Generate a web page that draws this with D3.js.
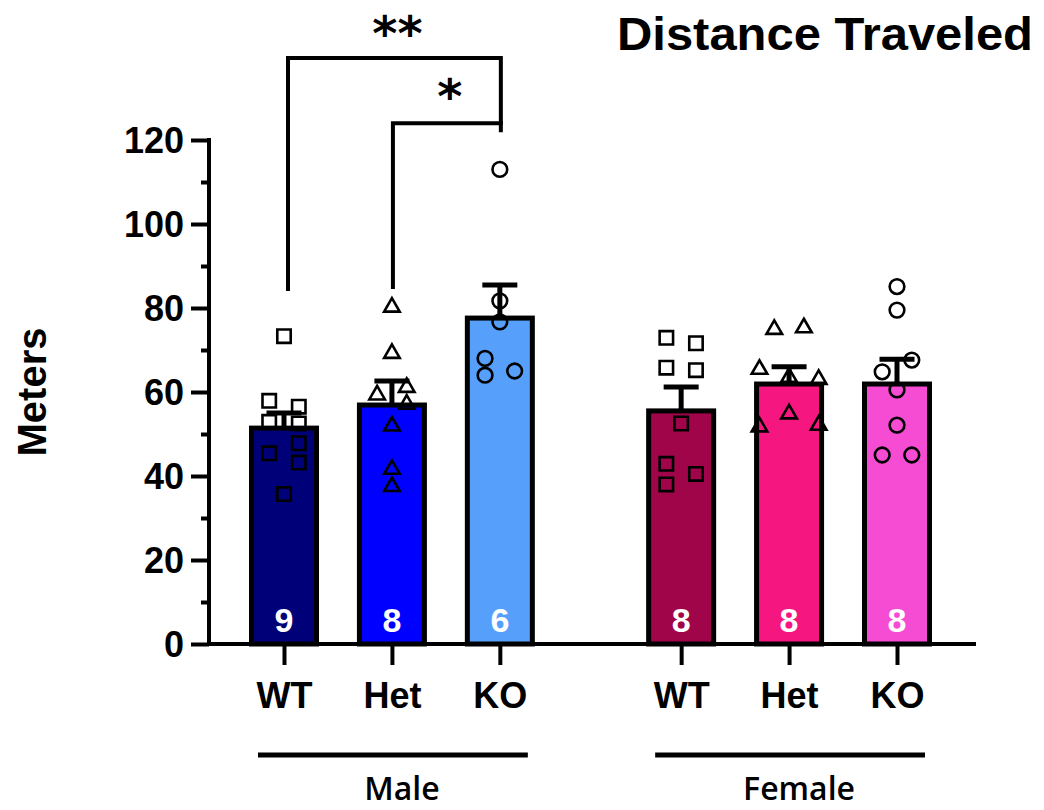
<!DOCTYPE html>
<html><head><meta charset="utf-8">
<script src="https://cdn.jsdelivr.net/npm/d3@7"></script>
<style>body{margin:0;background:#fff} svg{display:block;background:#fff}</style>
</head><body><svg id="c" width="1044" height="810"></svg>
<script>
// ---- data ----
const genotypes = ["WT", "Het", "KO", "WT", "Het", "KO"];
const sexLabels = ["Male", "Female"];
const barColors = ["#000078", "#0000FF", "#56A0FC", "#A0054A", "#F5177F", "#F54CD3"];
const means = [51.4, 56.9, 77.6, 55.5, 61.9, 61.9];
const sems = [3.6, 5.7, 7.9, 5.7, 4.1, 5.9];

const maleWT = [73.3, 57.9, 56.5, 52.9, 52.5, 47.8, 45.4, 43.2, 35.7];
const maleHet = [80.2, 69.2, 59.3, 61.1, 57.1, 51.9, 41.6, 37.5];
const maleKO = [113.0, 81.7, 76.7, 68.0, 64.0, 65.0];
const femaleWT = [72.9, 71.6, 65.8, 65.2, 52.5, 42.9, 40.5, 38.0];
const femaleHet = [74.9, 75.3, 65.4, 63.5, 63.0, 54.8, 51.7, 52.1];
const femaleKO = [85.1, 79.5, 67.6, 64.8, 60.5, 52.1, 45.0, 45.0];

// scatter column of each point (left / centre / right)
const maleWTcol = [0, -1, 1, -1, 1, 1, -1, 1, 0];
const maleHetcol = [0, 0, -1, 1, 1, 0, 0, 0];
const maleKOcol = [0, 0, 0, -1, -1, 1];
const femaleWTcol = [-1, 1, -1, 1, 0, -1, 1, -1];
const femaleHetcol = [-1, 1, -2, 0, 2, 0, -2, 2];
const femaleKOcol = [0, 0, 1, -1, 0, 0, -1, 1];

const yTicks = [0, 20, 40, 60, 80, 100, 120];
const yMinorTicks = [10, 30, 50, 70, 90, 110];

const compFrom = [0, 1];
const compTo = [2, 2];
const compLabels = ["**", "*"];
const compLevels = [139.5, 124.0];
const compLegBottom = [84.5, 85.0];

const title = "Distance Traveled";
const yLabel = "Meters";

// ---- build ----
const pointSets = [maleWT, maleHet, maleKO, femaleWT, femaleHet, femaleKO];
const colSets = [maleWTcol, maleHetcol, maleKOcol, femaleWTcol, femaleHetcol, femaleKOcol];
const symbolTypes = [d3.symbolSquare, d3.symbolTriangle, d3.symbolCircle,
                     d3.symbolSquare, d3.symbolTriangle, d3.symbolCircle];
const symbolSizes = [180, 105, 170, 180, 105, 170];

const svg = d3.select("#c");
const FONT = "'Liberation Sans', Arial, sans-serif";

const y = d3.scaleLinear().domain([0, 120]).range([644, 140]);
const slot = i => i + (i >= 3 ? 0.68 : 0);
const x = d3.scaleLinear().domain([0, slot(5)]).range([284, 897]);
const colStep = 14.8;
const barW = 65;

// bars
const bars = means.map((m, i) => ({i, m, s: sems[i]}));
svg.append("g").selectAll("rect").data(bars).join("rect")
  .attr("x", d => x(slot(d.i)) - barW / 2)
  .attr("y", d => y(d.m))
  .attr("width", barW)
  .attr("height", d => y(0) - y(d.m))
  .attr("fill", d => barColors[d.i])
  .attr("stroke", "#000").attr("stroke-width", 5);

// n labels
svg.append("g").selectAll("text").data(bars).join("text")
  .attr("x", d => x(slot(d.i)))
  .attr("y", 632)
  .attr("text-anchor", "middle")
  .attr("fill", "#fff")
  .attr("font-family", FONT).attr("font-weight", "bold").attr("font-size", 34)
  .text(d => pointSets[d.i].length);

// error bars (upper)
const eb = svg.append("g").attr("stroke", "#000").attr("stroke-width", 5);
eb.selectAll("line.v").data(bars).join("line").attr("class", "v")
  .attr("x1", d => x(slot(d.i))).attr("x2", d => x(slot(d.i)))
  .attr("y1", d => y(d.m)).attr("y2", d => y(d.m + d.s));
eb.selectAll("line.c").data(bars).join("line").attr("class", "c")
  .attr("x1", d => x(slot(d.i)) - 17.5).attr("x2", d => x(slot(d.i)) + 17.5)
  .attr("y1", d => y(d.m + d.s)).attr("y2", d => y(d.m + d.s));

// points
const pts = [];
pointSets.forEach((arr, g) => arr.forEach((v, k) => pts.push({g, v, c: colSets[g][k]})));
svg.append("g").selectAll("path").data(pts).join("path")
  .attr("transform", d => `translate(${x(slot(d.g)) + d.c * colStep},${y(d.v)})`)
  .attr("d", d => d3.symbol().type(symbolTypes[d.g]).size(symbolSizes[d.g])())
  .attr("fill", "none").attr("stroke", "#000").attr("stroke-width", 2.6);

// y axis
const yAx = svg.append("g").attr("transform", "translate(209,0)")
  .call(d3.axisLeft(y).tickValues(yTicks).tickSize(18).tickSizeOuter(0).tickPadding(7));
yAx.select(".domain").attr("stroke-width", 4).attr("d", "M0,138V646");
yAx.selectAll(".tick line").attr("stroke-width", 4);
yAx.selectAll(".tick text").attr("font-family", FONT).attr("font-weight", "bold")
  .attr("font-size", 36).attr("fill", "#000").attr("dy", "0.36em");
const yMin = svg.append("g").attr("transform", "translate(209,0)")
  .call(d3.axisLeft(y).tickValues(yMinorTicks).tickSize(8).tickFormat(""));
yMin.select(".domain").remove();
yMin.selectAll(".tick line").attr("stroke-width", 4);

// x axis
svg.append("line").attr("x1", 207).attr("x2", 976).attr("y1", y(0)).attr("y2", y(0))
  .attr("stroke", "#000").attr("stroke-width", 4);
const xAx = svg.append("g").attr("transform", `translate(0,${y(0)})`)
  .call(d3.axisBottom(x).tickValues(genotypes.map((g, i) => slot(i)))
    .tickSize(21).tickFormat((d, i) => genotypes[i]));
xAx.select(".domain").remove();
xAx.selectAll(".tick line").attr("stroke-width", 4);
xAx.selectAll(".tick text").attr("font-family", FONT).attr("font-weight", "bold")
  .attr("font-size", 36).attr("fill", "#000").attr("y", 64).attr("dy", 0);

// group lines and labels
sexLabels.forEach((s, k) => {
  const a = x(slot(k * 3)) - 26, b = x(slot(k * 3 + 2)) + 28;
  svg.append("line").attr("x1", a).attr("x2", b).attr("y1", 755).attr("y2", 755)
    .attr("stroke", "#000").attr("stroke-width", 5);
  svg.append("text").attr("x", (a + b) / 2 + 9).attr("y", 800)
    .attr("text-anchor", "middle").attr("font-family", "'Open Sans', sans-serif")
    .attr("font-weight", 600).attr("font-size", 32).attr("fill", "#000").text(s);
});

// y label
svg.append("text").attr("transform", "translate(46,392) rotate(-90)")
  .attr("text-anchor", "middle").attr("font-family", FONT).attr("font-weight", "bold")
  .attr("font-size", 40).attr("fill", "#000").text(yLabel);

// title
svg.append("text").attr("x", 1033).attr("y", 50).attr("text-anchor", "end")
  .attr("font-family", FONT).attr("font-weight", "bold").attr("font-size", 47)
  .attr("textLength", 416).attr("lengthAdjust", "spacingAndGlyphs")
  .attr("fill", "#000").text(title);

// significance brackets
const br = svg.append("g");
compFrom.forEach((f, k) => {
  const x1 = x(slot(f)) + (k === 0 ? 4 : 1), x2 = x(slot(compTo[k])) + 1;
  const yt = y(compLevels[k]);
  let d = `M${x1},${y(compLegBottom[k])}V${yt}H${x2}`;
  if (k === 0) d += `V${y(compLevels[1]) + 7}`;
  br.append("path").attr("d", d).attr("fill", "none").attr("stroke", "#000")
    .attr("stroke-width", 4).attr("stroke-linejoin", "miter").attr("stroke-linecap", "square");
  br.append("text").attr("x", (x1 + x2) / 2 + 3)
    .attr("y", yt - (k === 0 ? -4 : -2))
    .attr("text-anchor", "middle").attr("font-family", "'DejaVu Sans', sans-serif")
    .attr("font-weight", "bold").attr("font-size", 48).attr("fill", "#000")
    .attr("dy", "-0.25em").text(compLabels[k]);
});
</script></body></html>
